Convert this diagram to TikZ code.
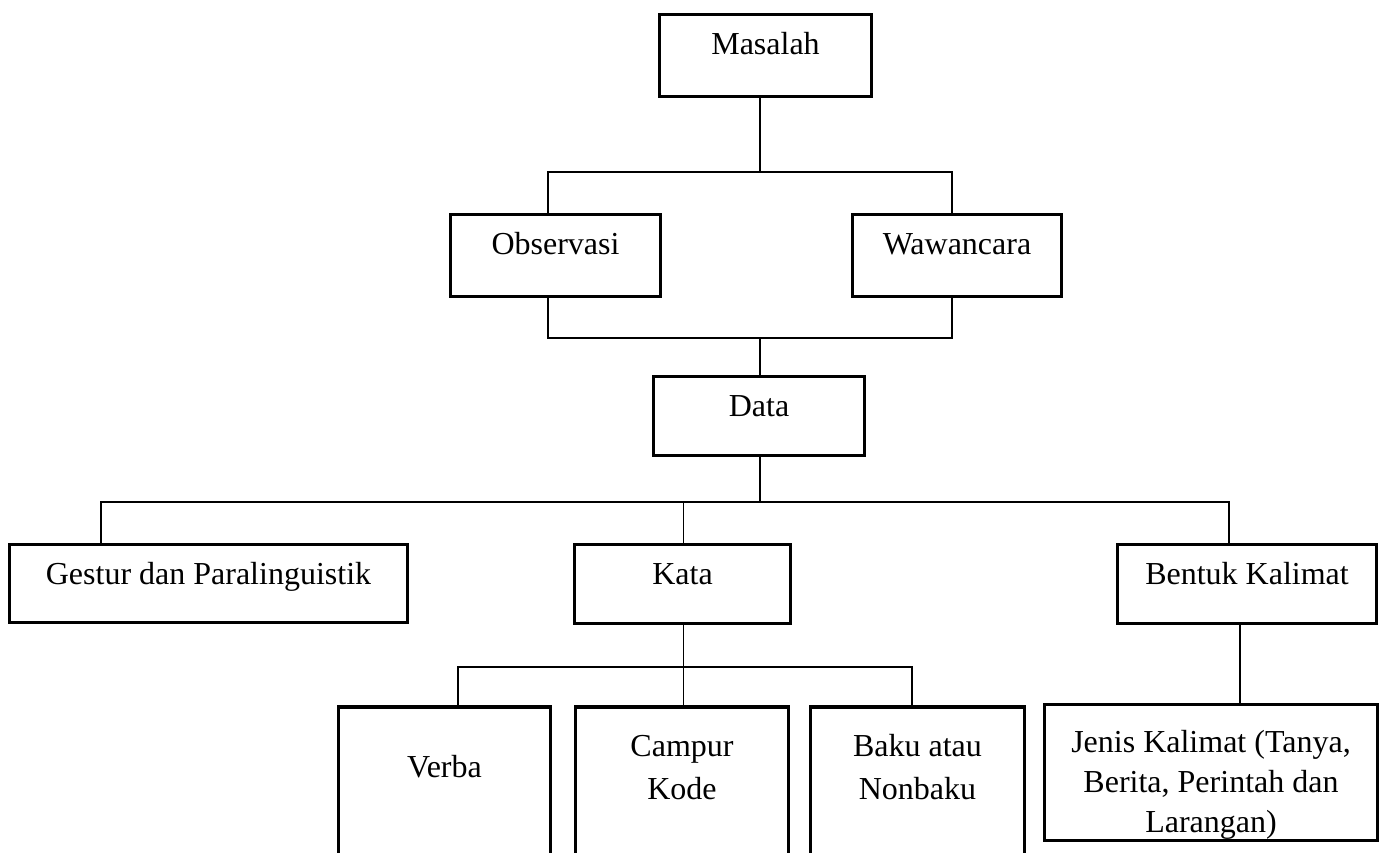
\documentclass[tikz,border=0pt]{standalone}
\usepackage{fontspec}
\setmainfont{Liberation Serif}

\begin{document}
\begin{tikzpicture}[x=1pt, y=-1pt,
    kotak/.style={draw, line width=3.2pt, inner sep=0pt, align=center, font=\fontsize{32}{40}\selectfont},
    garis/.style={line width=1.3pt}]
    \useasboundingbox (0,0) rectangle (1385,852);
    \clip (0,0) rectangle (1385,852);

    % Boxes
    \node[kotak, minimum width=212pt, minimum height=82pt, text height=40pt, text depth=42pt] (masalah) at (765.5,55.5) {Masalah};
    \node[kotak, minimum width=210pt, minimum height=82pt, text height=40pt, text depth=42pt] (observasi) at (555.5,255.5) {Observasi};
    \node[kotak, minimum width=209pt, minimum height=82pt, text height=40pt, text depth=42pt] (wawancara) at (957,255.5) {Wawancara};
    \node[kotak, minimum width=211pt, minimum height=79pt, text height=40pt, text depth=39pt] (data) at (759,416) {Data};
    \node[kotak, minimum width=398pt, minimum height=78pt, text height=40pt, text depth=38pt] (gestur) at (208.5,583.5) {Gestur dan Paralinguistik};
    \node[kotak, minimum width=216pt, minimum height=79pt, text height=40pt, text depth=39pt] (kata) at (682.5,584) {Kata};
    \node[kotak, minimum width=259pt, minimum height=79pt, text height=40pt, text depth=39pt] (bentuk) at (1247,584) {Bentuk Kalimat};

    \node[kotak, minimum width=212pt, minimum height=170pt, text height=70pt, text depth=100pt] (verba) at (444.5,792) {Verba};
    \node[kotak, font=\fontsize{32}{43}\selectfont, minimum width=213pt, minimum height=170pt, text height=92pt, text depth=78pt] (campur) at (682,792) {Campur\\Kode};
    \node[kotak, font=\fontsize{32}{43}\selectfont, minimum width=214pt, minimum height=170pt, text height=92pt, text depth=78pt] (baku) at (917.5,792) {Baku atau\\Nonbaku};
    \node[kotak, minimum width=333pt, minimum height=136pt, text height=128pt, text depth=8pt] (jenis) at (1211,772.5) {Jenis Kalimat (Tanya,\\Berita, Perintah dan\\Larangan)};

    % Lines
    \coordinate (bus1) at (760,172);
    \coordinate (bus2) at (760,338);
    \coordinate (bus3) at (760,502);
    \coordinate (bus4) at (683.5,667);

    \draw[garis] (masalah.south -| bus1) -- (bus1);
    \draw[garis] ([xshift=-7.5pt]observasi.north) |- (bus1) -| ([xshift=-5pt]wawancara.north);
    \draw[garis] ([xshift=-7.5pt]observasi.south) |- (bus2) -| ([xshift=-5pt]wawancara.south);
    \draw[garis] (bus2) -- (data.north -| bus2);

    \draw[garis] (data.south -| bus3) -- (bus3);
    \draw[garis] ([xshift=-107.5pt]gestur.north) |- (bus3) -| ([xshift=-18pt]bentuk.north);
    \draw[garis] (kata.north -| bus4) -- (bus3 -| bus4);

    \draw[garis] (kata.south -| bus4) -- (campur.north -| bus4);
    \draw[garis] ([xshift=13.5pt]verba.north) |- (bus4) -| ([xshift=-5.5pt]baku.north);
    \draw[garis] ([xshift=-7pt]bentuk.south) -- ([xshift=-7pt]bentuk.south |- jenis.north);
\end{tikzpicture}
\end{document}
